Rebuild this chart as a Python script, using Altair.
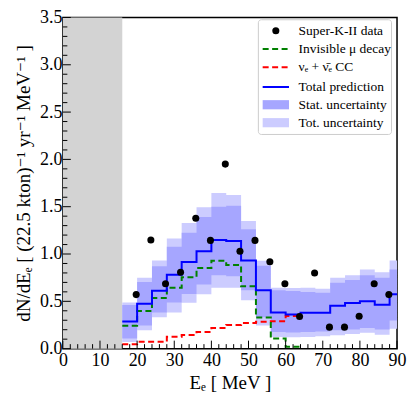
import altair as alt
import pandas as pd
import numpy as np

# ---------------- data ----------------
bin_edges = [16, 20, 24, 28, 32, 36, 40, 44, 48, 52, 56, 60, 64, 68, 72, 76, 80, 84, 88]
x_end = 90

total_pred = [0.286, 0.474, 0.613, 0.780, 0.915, 1.030, 1.148, 1.137, 0.932, 0.617,
              0.383, 0.362, 0.380, 0.380, 0.453, 0.481, 0.502, 0.464, 0.575]
stat_hi = [0.460, 0.703, 0.870, 1.078, 1.226, 1.390, 1.500, 1.510, 1.262, 0.877,
           0.617, 0.610, 0.599, 0.590, 0.696, 0.724, 0.776, 0.748, 0.835]
stat_lo = [0.106, 0.245, 0.383, 0.488, 0.578, 0.679, 0.776, 0.766, 0.617, 0.331,
           0.175, 0.170, 0.175, 0.180, 0.193, 0.203, 0.217, 0.203, 0.297]
tot_hi = [0.488, 0.748, 0.932, 1.165, 1.328, 1.495, 1.644, 1.623, 1.349, 0.929,
          0.644, 0.640, 0.644, 0.634, 0.748, 0.776, 0.835, 0.807, 0.932]
tot_lo = [0.071, 0.193, 0.331, 0.383, 0.484, 0.575, 0.644, 0.644, 0.512, 0.245,
          0.123, 0.120, 0.123, 0.130, 0.141, 0.155, 0.168, 0.148, 0.210]

invisible_mu = [0.242, 0.398, 0.536, 0.644, 0.755, 0.852, 0.929, 0.884, 0.658, 0.328, 0.106, 0.020]
nue_cc = [0.045, 0.072, 0.072, 0.125, 0.145, 0.177, 0.219, 0.250, 0.272, 0.285, 0.290, 0.345]
partial_end = 64

data_x = [19.75, 23.7, 27.65, 31.7, 35.8, 39.75, 43.75, 47.7, 51.75, 55.75,
          59.8, 63.75, 67.8, 71.8, 75.85, 79.8, 83.85, 87.8]
data_y = [0.571, 1.148, 0.686, 0.807, 1.377, 1.144, 1.950, 1.030, 1.144, 0.918,
          0.686, 0.339, 0.800, 0.227, 0.227, 0.342, 0.686, 0.571]

excluded = [0, 16]
x_major = [0, 10, 20, 30, 40, 50, 60, 70, 80, 90]
y_major = [0.0, 0.5, 1.0, 1.5, 2.0, 2.5, 3.0, 3.5]
x_minor_step = 2
y_minor_step = 0.1

legend_labels = ["Super-K-II data", "Invisible \u03bc decay", "\u03bd\u2091 + \u03bd\u0304\u2091 CC",
                 "Total prediction", "Stat. uncertainty", "Tot. uncertainty"]

# ---------------- layout / style ----------------
PAD_TOP = 9
W, H = 335, 332
FONT = "Liberation Serif, DejaVu Serif, serif"
BLUE = "#0000ff"
GREEN = "#008000"
RED = "#ff0000"
STAT_C = "#a6a6ff"
TOT_C = "#ccccff"
DASH = [6, 3.5]

xs = alt.Scale(domain=[0, 90], nice=False, zero=False)
ys = alt.Scale(domain=[0, 3.5], nice=False, zero=False)

X_AX = alt.Axis(values=x_major, format="d", title="E\u2091  [ MeV ]", labelFlush=False,
                labelOverlap=False, labelPadding=3, titlePadding=4, tickCount=10)
Y_AX = alt.Axis(values=y_major, format=".1f",
                title="dN/dE\u2091  [ (22.5 kton)\u207b\u00b9 yr\u207b\u00b9 MeV\u207b\u00b9 ]",
                labelFlush=False, labelOverlap=False, labelPadding=1, titlePadding=6)


def X(field):
    return alt.X(field, scale=xs, axis=X_AX)


def Y(field):
    return alt.Y(field, scale=ys, axis=Y_AX)


def step_df(values, end):
    xx = bin_edges[:len(values)] + [end]
    return pd.DataFrame({"x": xx, "y": list(values) + [values[-1]]})


band_df = pd.DataFrame({
    "x": bin_edges + [x_end],
    "stat_hi": stat_hi + [stat_hi[-1]],
    "stat_lo": stat_lo + [stat_lo[-1]],
    "tot_hi": tot_hi + [tot_hi[-1]],
    "tot_lo": tot_lo + [tot_lo[-1]],
})

shade = alt.Chart(pd.DataFrame({"x": [excluded[0]], "x2": [excluded[1]]})).mark_rect(
    color="#d3d3d3").encode(x=X("x:Q"), x2="x2:Q", y=alt.value(0), y2=alt.value(H))

tot_band = alt.Chart(band_df).mark_area(interpolate="step-after", color=TOT_C, opacity=1).encode(
    x=X("x:Q"), y=Y("tot_lo:Q"), y2="tot_hi:Q")
stat_band = alt.Chart(band_df).mark_area(interpolate="step-after", color=STAT_C, opacity=1).encode(
    x=X("x:Q"), y=Y("stat_lo:Q"), y2="stat_hi:Q")

red_line = alt.Chart(step_df(nue_cc, partial_end)).mark_line(
    interpolate="step-after", color=RED, strokeWidth=2, strokeDash=DASH).encode(
    x=X("x:Q"), y=Y("y:Q"))
green_line = alt.Chart(step_df(invisible_mu, partial_end)).mark_line(
    interpolate="step-after", color=GREEN, strokeWidth=2, strokeDash=DASH).encode(
    x=X("x:Q"), y=Y("y:Q"))
blue_line = alt.Chart(step_df(total_pred, x_end)).mark_line(
    interpolate="step-after", color=BLUE, strokeWidth=2).encode(
    x=X("x:Q"), y=Y("y:Q"))

points = alt.Chart(pd.DataFrame({"x": data_x, "y": data_y})).mark_point(
    filled=True, color="black", size=50, opacity=1).encode(x=X("x:Q"), y=Y("y:Q"))

# inward ticks (left and bottom)
x_minor = [v for v in np.arange(0, 90.001, x_minor_step) if v not in x_major]
y_minor = [round(v, 2) for v in np.arange(0, 3.5001, y_minor_step) if round(v, 2) not in y_major]


def yticks(vals, length):
    return alt.Chart(pd.DataFrame({"v": vals})).mark_rule(color="black", strokeWidth=1).encode(
        y=Y("v:Q"), x=alt.value(0), x2=alt.value(length))


def xticks(vals, length):
    return alt.Chart(pd.DataFrame({"v": vals})).mark_rule(color="black", strokeWidth=1).encode(
        x=X("v:Q"), y=alt.value(H), y2=alt.value(H - length))


ticks = [yticks(y_major, 8), yticks(y_minor, 4.5), xticks(x_major, 8), xticks(x_minor, 4.5)]

# legend (pixel positions inside the plot area, measured from the page)
top_page = 8 + PAD_TOP
row_y = [p - top_page for p in [30.3, 48.7, 67.0, 86.7, 104.5, 122.5]]
sx0, sx1, tx = 200.3, 226.7, 236.3
box = alt.Chart(pd.DataFrame({"a": [0]})).mark_rect(
    fill="white", fillOpacity=0.85, stroke="#cccccc", strokeWidth=1, cornerRadius=3).encode(
    x=alt.value(196), x2=alt.value(329.5), y=alt.value(19.3 - top_page), y2=alt.value(134.3 - top_page))
leg_text = alt.Chart(pd.DataFrame({"t": legend_labels, "y": row_y})).mark_text(
    align="left", baseline="middle", font=FONT, fontSize=13.5, color="black").encode(
    text="t:N", x=alt.value(tx), y=alt.Y("y:Q", scale=None))
leg_dot = alt.Chart(pd.DataFrame({"y": [row_y[0]]})).mark_point(
    filled=True, color="black", size=50, opacity=1).encode(
    x=alt.value((sx0 + sx1) / 2), y=alt.Y("y:Q", scale=None))
leg_lines = alt.Chart(pd.DataFrame({"y": row_y[1:4], "c": [GREEN, RED, BLUE],
                                    "d": ["dash", "dash", "solid"]})).mark_rule(strokeWidth=2).encode(
    x=alt.value(sx0), x2=alt.value(sx1), y=alt.Y("y:Q", scale=None),
    color=alt.Color("c:N", scale=None),
    strokeDash=alt.StrokeDash("d:N", scale=alt.Scale(domain=["dash", "solid"], range=[DASH, [1, 0]]),
                              legend=None))
leg_rects = alt.Chart(pd.DataFrame({"y0": [row_y[4] - 4.6, row_y[5] - 4.6],
                                    "y1": [row_y[4] + 4.6, row_y[5] + 4.6],
                                    "c": [STAT_C, TOT_C]})).mark_rect().encode(
    x=alt.value(sx0), x2=alt.value(sx1), y=alt.Y("y0:Q", scale=None), y2="y1:Q",
    color=alt.Color("c:N", scale=None))

chart = alt.layer(
    shade, tot_band, stat_band, red_line, green_line, blue_line, points,
    *ticks, box, leg_text, leg_dot, leg_lines, leg_rects
).properties(
    width=W, height=H,
    autosize=alt.AutoSizeParams(type="none"),
    padding={"left": 55, "top": PAD_TOP, "right": 10, "bottom": 45},
).configure_view(
    stroke="black", strokeWidth=1.5
).configure_axis(
    labelFont=FONT, titleFont=FONT, labelFontSize=18, titleFontSize=19,
    labelColor="black", titleColor="black", ticks=False, domain=False, grid=False,
    titleFontWeight="normal"
)

chart.save("out.html", embed_options={"renderer": "svg", "actions": False})
